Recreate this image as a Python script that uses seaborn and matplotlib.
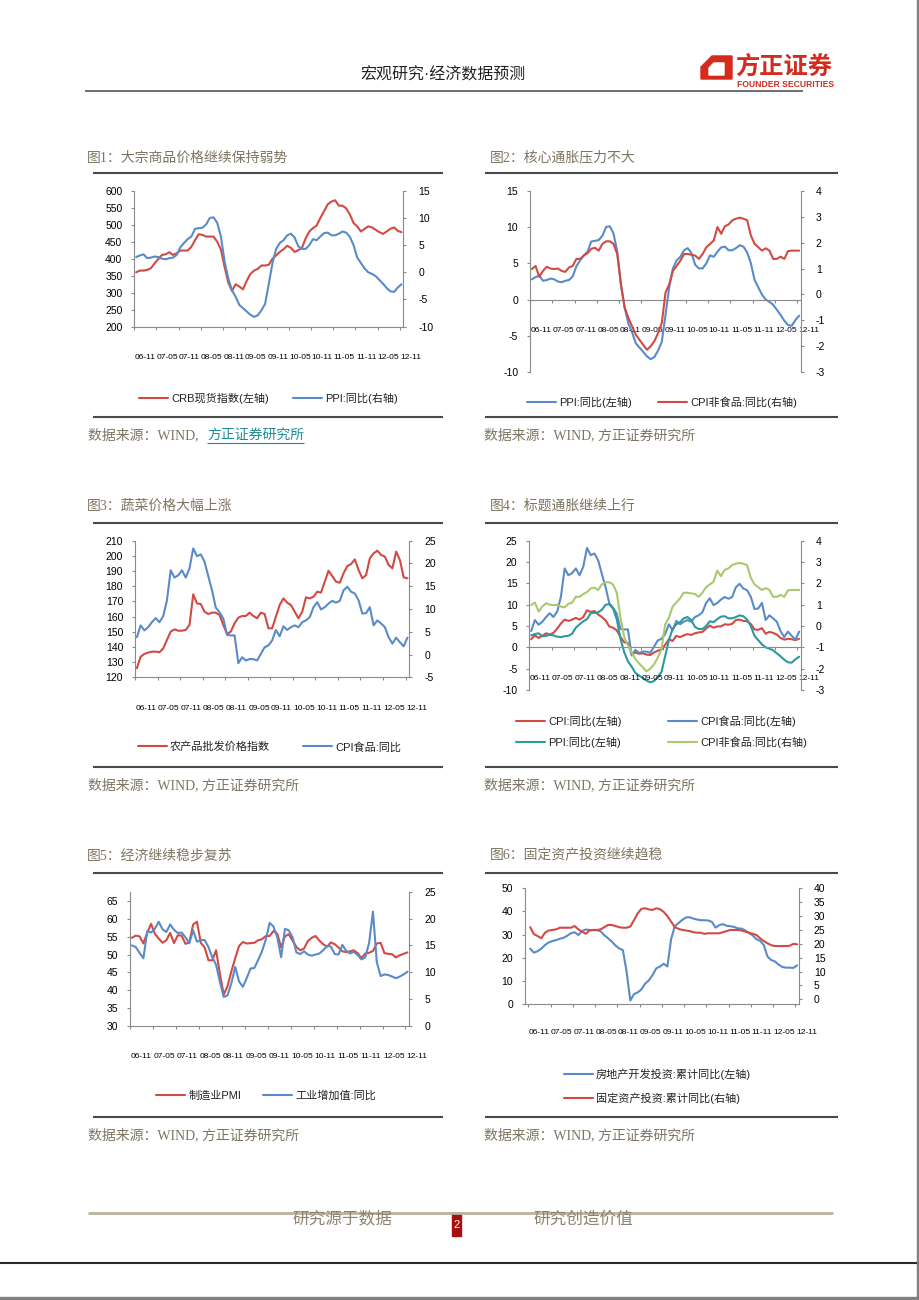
import numpy as np
import matplotlib
matplotlib.use('Agg')
import matplotlib.pyplot as plt
import seaborn as sns
from matplotlib.lines import Line2D
from matplotlib.patches import Polygon, Rectangle

# ---------------- data (monthly, 2006-11 .. 2012-11) ----------------
XLAB = ['06-11', '07-05', '07-11', '08-05', '08-11', '09-05', '09-11',
        '10-05', '10-11', '11-05', '11-11', '12-05', '12-11']

crb = [360, 365, 365, 367, 372, 386, 399, 411, 413, 419,
       411, 416, 424, 424, 424, 435, 455, 472, 470, 465,
       465, 465, 450, 427, 376, 330, 305, 325, 318, 310,
       335, 355, 365, 370, 380, 380, 382, 400, 410, 420,
       428, 438, 432, 420, 425, 432, 460, 480, 490, 498,
       520, 540, 560, 568, 572, 556, 556, 548, 530, 505,
       495, 480, 488, 495, 492, 485, 478, 473, 480, 488,
       492, 482, 478]

ppi = [2.8, 3.1,
       3.3, 2.6, 2.7, 2.9, 2.8, 2.5, 2.4, 2.6, 2.7, 3.2, 4.6, 5.4,
       6.1, 6.6, 8.0, 8.1, 8.2, 8.8, 10.0, 10.1, 9.1, 6.6, 2.0, -1.1,
       -3.3, -4.5, -6.0, -6.6, -7.2, -7.8, -8.2, -7.9, -7.0, -5.8, -2.1, 1.7,
       4.3, 5.4, 5.9, 6.8, 7.1, 6.4, 4.8, 4.3, 4.3, 5.0, 6.1, 5.9,
       6.6, 7.2, 7.3, 6.8, 6.8, 7.1, 7.5, 7.3, 6.5, 5.0, 2.7, 1.7,
       0.7, 0.0, -0.3, -0.7, -1.4, -2.1, -2.9, -3.5, -3.6, -2.8, -2.2]

cpi = [1.9, 2.8,
       2.2, 2.7, 3.3, 3.0, 3.4, 4.4, 5.6, 6.5, 6.2, 6.5, 6.9, 6.5,
       7.1, 8.7, 8.3, 8.5, 7.7, 7.1, 6.3, 4.9, 4.6, 4.0, 2.4, 1.2,
       1.0, -1.6, -1.2, -1.5, -1.4, -1.7, -1.8, -1.2, -0.8, -0.5, 0.6, 1.9,
       1.5, 2.7, 2.4, 2.8, 3.1, 2.9, 3.3, 3.5, 3.6, 4.4, 5.1, 4.6,
       4.9, 4.9, 5.4, 5.3, 5.5, 6.4, 6.5, 6.2, 6.1, 5.5, 4.2, 4.1,
       4.5, 3.2, 3.6, 3.4, 3.0, 2.2, 1.8, 2.0, 1.9, 1.7, 2.0]

cpi_food = [3.8, 6.4, 5.3, 6.0, 7.1, 8.0, 7.1, 8.4, 11.9, 18.5,
            16.9, 17.4, 18.5, 16.9, 18.9, 23.3, 21.6, 22.0, 20.4, 17.2,
            14.1, 10.3, 9.3, 7.9, 4.3, 4.2, 4.2, -1.9, -0.6, -1.3,
            -1.0, -1.0, -1.3, 0.15, 1.6, 2.0, 3.1, 5.4, 4.0, 6.2,
            5.4, 6.0, 6.4, 6.0, 7.1, 7.5, 8.2, 10.4, 11.5, 9.9,
            10.4, 11.2, 11.8, 11.4, 11.8, 14.1, 14.9, 13.8, 13.4, 11.9,
            9.0, 9.1, 10.4, 6.4, 7.5, 6.8, 6.0, 3.8, 2.4, 3.7,
            2.7, 1.8, 3.7]

cpi_nonfood = [0.98, 1.1, 0.68, 0.91, 1.07, 1.0, 0.98, 1.0, 0.91, 0.87,
               1.04, 1.1, 1.37, 1.37, 1.5, 1.59, 1.76, 1.8, 1.69, 1.95,
               2.05, 2.05, 1.95, 1.56, 0.39, -0.51, -0.9, -1.23, -1.55, -1.75,
               -1.94, -2.13, -2.0, -1.8, -1.49, -1.1, 0.07, 0.39, 0.91, 1.1,
               1.3, 1.56, 1.56, 1.53, 1.5, 1.37, 1.56, 1.82, 1.95, 2.08,
               2.6, 2.34, 2.63, 2.7, 2.86, 2.92, 2.96, 2.92, 2.86, 2.27,
               1.95, 1.82, 1.69, 1.78, 1.69, 1.37, 1.37, 1.46, 1.37, 1.67,
               1.69, 1.69, 1.69]

agri = [126, 133.6, 135.4, 136.3, 136.9, 136.9, 136.5, 139, 144.6, 150.1,
        151.6, 150.7, 150.7, 151.2, 154.5, 174.7, 168.7, 168.3, 163.2, 161.7,
        162.6, 162.6, 161.1, 154.5, 148.5, 150.1, 155.6, 159.3, 160.4, 160.4,
        162.6, 160.4, 158.9, 162.6, 161.7, 152.3, 152.3, 160, 167.6, 172,
        169.2, 167.6, 163.2, 158.9, 163.2, 172.7, 172, 173.1, 176.4, 175.8,
        183, 190.2, 186.7, 183, 182.3, 188.5, 193.3, 194.6, 197.7, 190.7,
        185.2, 187.4, 198.4, 201.7, 203.4, 200.6, 199.5, 194, 191.8, 202.8,
        197.3, 185.9, 185.2]

pmi = [54.7, 55.3,
       55.1, 53.1, 56.1, 58.6, 55.8, 54.5, 53.3, 54.0, 56.1, 53.2, 55.4, 55.3,
       53.0, 53.4, 58.4, 59.2, 53.3, 52.0, 48.4, 48.4, 51.2, 44.6, 38.8, 41.2,
       45.3, 49.0, 52.4, 53.5, 53.1, 53.2, 53.3, 54.0, 54.3, 55.2, 55.2, 56.6,
       55.8, 52.0, 55.1, 55.7, 53.9, 52.1, 51.2, 51.7, 53.8, 54.7, 55.2, 53.9,
       52.9, 52.2, 53.4, 52.9, 52.0, 50.9, 50.7, 50.9, 51.2, 50.4, 49.0, 50.3,
       50.5, 51.0, 53.1, 53.3, 50.4, 50.2, 50.1, 49.2, 49.8, 50.2, 50.6]

iva = [15.0, 14.7,
       13.6, 12.6, 17.6, 17.4, 18.1, 19.4, 18.0, 17.5, 18.9, 17.9, 17.3, 17.4,
       16.5, 15.4, 17.8, 15.7, 16.0, 16.0, 14.7, 12.8, 11.4, 8.2, 5.4, 5.7,
       8.0, 11.0, 8.3, 7.3, 8.9, 10.7, 10.8, 12.3, 13.9, 16.1, 19.2, 18.5,
       16.5, 12.8, 18.1, 17.8, 16.5, 13.7, 13.4, 13.9, 13.3, 13.1, 13.3, 13.5,
       14.1, 14.9, 14.8, 13.4, 13.3, 15.1, 14.0, 13.5, 13.8, 13.2, 12.4, 12.8,
       15.5, 21.3, 11.9, 9.3, 9.6, 9.5, 9.2, 8.9, 9.2, 9.6, 10.1]

rei = [23.9, 22.2, 22.8, 23.9, 25.5, 26.6, 27.2, 27.6, 28.2, 28.6,
       29.5, 30.6, 31.0, 29.8, 31.5, 32.2, 32.0, 31.9, 31.9, 31.4,
       29.7, 28.4, 27.0, 25.3, 24.0, 23.3, 14.0, 1.5, 4.3, 5.0,
       6.3, 8.8, 10.2, 12.5, 15.4, 16.2, 17.4, 16.2, 28.0, 33.6,
       35.0, 36.3, 37.4, 37.5, 36.9, 36.5, 36.2, 36.2, 36.1, 35.5,
       33.0, 34.1, 34.5, 33.8, 33.6, 33.3, 32.7, 32.6, 31.8, 30.7,
       29.7, 28.0, 27.3, 25.5, 20.5, 19.0, 18.4, 17.0, 16.0, 15.7,
       15.7, 15.6, 16.7]

fai = [26.0, 23.5, 22.8, 22.0, 24.0, 24.8, 25.0, 25.2, 25.8, 25.8,
       25.8, 25.8, 26.4, 25.2, 24.4, 23.6, 24.8, 25.0, 25.0, 25.2,
       26.0, 26.8, 26.8, 26.4, 26.0, 25.8, 25.8, 26.2, 28.5, 31.0,
       32.6, 32.8, 32.4, 32.2, 32.8, 32.5, 31.5, 30.0, 28.0, 26.0,
       25.4, 25.0, 24.8, 24.6, 24.2, 24.0, 24.0, 23.6, 23.8, 23.8,
       23.8, 23.8, 24.2, 24.6, 25.0, 25.0, 25.0, 24.8, 24.4, 24.0,
       23.6, 23.2, 22.0, 21.0, 20.2, 19.5, 19.2, 19.2, 19.2, 19.2,
       19.3, 20.0, 19.8]

titles = ['图1：大宗商品价格继续保持弱势', '图2：核心通胀压力不大',
          '图3：蔬菜价格大幅上涨', '图4：标题通胀继续上行',
          '图5：经济继续稳步复苏', '图6：固定资产投资继续趋稳']

# ---------------- style ----------------
sns.set_theme(style='white')
SANS = ['Liberation Sans', 'Noto Sans CJK SC', 'DejaVu Sans']
SERIF = ['Liberation Serif', 'Noto Sans CJK SC', 'DejaVu Sans']
CJK = ['Noto Sans CJK SC', 'DejaVu Sans']
plt.rcParams['font.family'] = SANS
plt.rcParams['axes.unicode_minus'] = False

RED = '#d24a44'
BLUE = '#5a8bc9'
TEAL = '#2a9a9c'
GREEN = '#aac86c'
AXC = '#8a8a8a'
TXT = '#7d7562'
LW = 1.5

W, H = 920, 1300
fig = plt.figure(figsize=(9.2, 13), dpi=100)
fig.patch.set_facecolor('white')

N = len(ppi)
X = np.arange(N) + 0.5


def fx(x):
    return x / W


def fy(y):
    return 1 - y / H


def px_axes(l, t, r, b):
    return fig.add_axes([fx(l), fy(b), (r - l) / W, (b - t) / H])


def hline(x0, x1, y, color, lw):
    fig.add_artist(Line2D([fx(x0), fx(x1)], [fy(y), fy(y)], color=color,
                          lw=lw, transform=fig.transFigure,
                          solid_capstyle='butt'))


def style(ax1, ax2, ylim1, yt1, ylim2, yt2, zero=False, xlim=(0, 73),
          lab_off=31):
    for ax in (ax1, ax2):
        ax.set_facecolor('none')
        ax.set_xlim(*xlim)
        ax.spines['top'].set_visible(False)
        ax.grid(False)
        ax.set_xlabel('')
        ax.set_ylabel('')
    ax1.set_ylim(*ylim1)
    ax1.set_yticks(yt1)
    ax2.set_ylim(*ylim2)
    ax2.set_yticks(yt2)
    ax1.spines['right'].set_visible(False)
    ax2.spines['left'].set_visible(False)
    ax2.spines['bottom'].set_visible(False)
    for sp in ('left', 'bottom'):
        ax1.spines[sp].set_color(AXC)
        ax1.spines[sp].set_linewidth(0.8)
    ax2.spines['right'].set_color(AXC)
    ax2.spines['right'].set_linewidth(0.8)
    if zero:
        ax1.spines['bottom'].set_position(('data', 0))
    ax1.set_xticks(np.arange(0, 73, 6))
    ax1.set_xticklabels([])
    ax1.tick_params(axis='x', bottom=True, direction='out', length=2.2,
                    width=0.8, color=AXC, labelbottom=False)
    ax1.tick_params(axis='y', left=True, right=False, direction='out',
                    length=2.2, width=0.8, color=AXC, pad=6.3,
                    labelsize=7.5, labelcolor='#000000')
    ax2.tick_params(axis='y', right=True, left=False, direction='out',
                    length=2.2, width=0.8, color=AXC, pad=8.5,
                    labelsize=7.5, labelcolor='#000000')
    ax2.tick_params(axis='x', bottom=False, labelbottom=False)
    y0 = 0 if zero else ylim1[0]
    for i, lab in enumerate(XLAB):
        ax1.annotate(lab, xy=(6 * i + 3, y0), xycoords='data',
                     xytext=(0, -lab_off), textcoords='offset pixels',
                     ha='center', va='center', fontsize=6.0,
                     color='#000000', annotation_clip=False)


def line(ax, y, color):
    sns.lineplot(x=X, y=np.asarray(y, dtype=float), ax=ax, color=color,
                 linewidth=LW, legend=False, errorbar=None)


def legend_entry(color, label, x, y):
    h = Line2D([], [], color=color, lw=LW)
    lg = fig.legend([h], [label], loc='center left',
                    bbox_to_anchor=(fx(x), fy(y)),
                    bbox_transform=fig.transFigure, frameon=False,
                    prop={'family': SANS, 'size': 8},
                    handlelength=29 / 11.1, handletextpad=0.28,
                    borderpad=0, borderaxespad=0, labelcolor='#222222')
    return lg


def frame(x0, x1, title, ytitle, ytop, ybot, ysrc, teal=False):
    fig.text(fx(x0 - 6 if x0 < 200 else x0 + 5), fy(ytitle), title,
             fontsize=10, color=TXT, family=SERIF, va='center', ha='left')
    hline(x0, x1, ytop, '#4a4a4a', 1.5)
    hline(x0, x1, ybot, '#4a4a4a', 1.5)
    sx = x0 - 5 if x0 < 200 else x0 - 1
    if teal:
        fig.text(fx(sx), fy(ysrc), '数据来源：WIND, ', fontsize=10,
                 color=TXT, family=SERIF, va='center', ha='left')
        fig.text(fx(207), fy(ysrc), '方正证券研究所', fontsize=10,
                 color='#1b8c99', family=CJK, va='center', ha='left')
        hline(207, 304, ysrc + 8, '#1b8c99', 0.8)
    else:
        fig.text(fx(sx), fy(ysrc), '数据来源：WIND, 方正证券研究所',
                 fontsize=10, color=TXT, family=SERIF, va='center',
                 ha='left')


# ---------------- header ----------------
fig.text(fx(360), fy(75), '宏观研究·经济数据预测', fontsize=11.5,
         color='#222222', family=SANS, va='center', ha='left')
hline(85, 803, 90.5, '#555555', 1.2)
fig.add_artist(Polygon([(fx(701), fy(79)), (fx(701), fy(67)),
                        (fx(712), fy(56)), (fx(732), fy(56)),
                        (fx(732), fy(79))], closed=True,
                       transform=fig.transFigure, color='#d52b1e'))
fig.add_artist(Polygon([(fx(709), fy(75)), (fx(709), fy(68)),
                        (fx(714), fy(63)), (fx(724), fy(63)),
                        (fx(724), fy(75))], closed=True,
                       transform=fig.transFigure, color='white'))
fig.text(fx(735), fy(67), '方正证券', fontsize=17.5, fontweight='bold',
         color='#d52b1e', family=CJK, va='center', ha='left')
fig.text(fx(737), fy(84.5), 'FOUNDER SECURITIES', fontsize=6.2,
         fontweight='bold', color='#d52b1e', family=SANS, va='center',
         ha='left')

# ---------------- chart 1 ----------------
a1 = px_axes(134.3, 190.7, 403.3, 326.7)
b1 = a1.twinx()
line(a1, crb, RED)
line(b1, ppi, BLUE)
style(a1, b1, (200, 600), np.arange(200, 601, 50), (-10, 15),
      np.arange(-10, 16, 5))
frame(93, 443, titles[0], 158, 173, 417, 435, teal=True)
legend_entry(RED, 'CRB现货指数(左轴)', 139, 398)
legend_entry(BLUE, 'PPI:同比(右轴)', 293, 398)

# ---------------- chart 2 ----------------
a2 = px_axes(530, 190.7, 801, 372.3)
b2 = a2.twinx()
line(a2, ppi, BLUE)
line(b2, cpi_nonfood, RED)
style(a2, b2, (-10, 15), np.arange(-10, 16, 5), (-3, 4),
      np.arange(-3, 5, 1), zero=True)
frame(485, 838, titles[1], 158, 173, 417, 435)
legend_entry(BLUE, 'PPI:同比(左轴)', 527, 402)
legend_entry(RED, 'CPI非食品:同比(右轴)', 658, 402)

# ---------------- chart 3 ----------------
a3 = px_axes(135, 540.7, 409.3, 677.3)
b3 = a3.twinx()
line(a3, agri, RED)
line(b3, cpi_food, BLUE)
style(a3, b3, (120, 210), np.arange(120, 211, 10), (-5, 25),
      np.arange(-5, 26, 5))
frame(93, 443, titles[2], 506, 523, 767, 785)
legend_entry(RED, '农产品批发价格指数', 138, 747)
legend_entry(BLUE, 'CPI食品:同比', 303, 747)

# ---------------- chart 4 ----------------
a4 = px_axes(529.3, 540.7, 801, 690)
b4 = a4.twinx()
line(a4, cpi, RED)
line(a4, cpi_food, BLUE)
line(a4, ppi, TEAL)
line(b4, cpi_nonfood, GREEN)
style(a4, b4, (-10, 25), np.arange(-10, 26, 5), (-3, 4),
      np.arange(-3, 5, 1), zero=True)
frame(485, 838, titles[3], 506, 523, 767, 785)
legend_entry(RED, 'CPI:同比(左轴)', 516, 721)
legend_entry(BLUE, 'CPI食品:同比(左轴)', 668, 721)
legend_entry(TEAL, 'PPI:同比(左轴)', 516, 742)
legend_entry(GREEN, 'CPI非食品:同比(右轴)', 668, 742)

# ---------------- chart 5 ----------------
a5 = px_axes(130, 891.7, 409.3, 1026)
b5 = a5.twinx()
line(a5, pmi, RED)
line(b5, iva, BLUE)
style(a5, b5, (30, 67.6), np.arange(30, 66, 5), (0, 25),
      np.arange(0, 26, 5))
frame(93, 443, titles[4], 856, 873, 1117, 1135)
legend_entry(RED, '制造业PMI', 156, 1096)
legend_entry(BLUE, '工业增加值:同比', 263, 1096)

# ---------------- chart 6 ----------------
a6 = px_axes(525, 888.3, 799, 1004)
b6 = a6.twinx()
line(a6, rei, BLUE)
line(b6, fai, RED)
style(a6, b6, (0, 50), np.arange(0, 51, 10), (-1.68, 40),
      np.arange(0, 41, 5), xlim=(-0.9, 73), lab_off=29)
frame(485, 838, titles[5], 854, 873, 1117, 1135)
legend_entry(BLUE, '房地产开发投资:累计同比(左轴)', 564, 1074)
legend_entry(RED, '固定资产投资:累计同比(右轴)', 564, 1098)

# ---------------- footer ----------------
hline(88, 833, 1212.5, '#bcb29c', 2.0)
fig.text(fx(292), fy(1219), '研究源于数据', fontsize=12, color='#8c8470',
         family=CJK, va='center', ha='left')
fig.text(fx(533), fy(1219), '研究创造价值', fontsize=12, color='#8c8470',
         family=CJK, va='center', ha='left')
fig.add_artist(Rectangle((fx(452), fy(1236)), 9 / W, 23 / H,
                         transform=fig.transFigure, color='#a81010'))
fig.text(fx(456.5), fy(1225), '2', fontsize=8, color='white', family=SANS,
         va='center', ha='center')
hline(0, 917, 1263, '#2a2a2a', 1.5)
fig.add_artist(Rectangle((fx(917), 0), 3 / W, 1,
                         transform=fig.transFigure, color='#808080'))
fig.add_artist(Rectangle((0, 0), 1, 3 / H,
                         transform=fig.transFigure, color='#808080'))

fig.savefig('out.png', dpi=100, facecolor='white')
